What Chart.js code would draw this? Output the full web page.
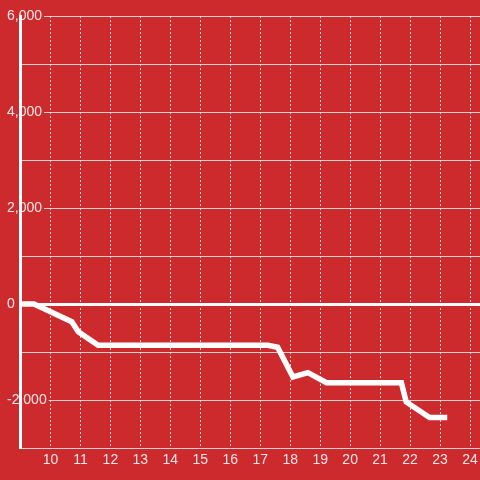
<!DOCTYPE html>
<html>
<head>
<meta charset="utf-8">
<script src="https://cdn.jsdelivr.net/npm/chart.js@4"></script>
<style>
  html, body { margin: 0; padding: 0; background: #cd2a2e; }
  #wrap { width: 480px; height: 480px; position: relative; }
</style>
</head>
<body>
<div id="wrap"><canvas id="chart"></canvas></div>
<script>
// hour of day vs running balance
const hours = [8.5, 9.45, 10.71, 10.93, 11.59, 17.25, 17.58, 18.09, 18.59, 19.21, 21.71, 21.87, 22.65, 23.24];
const balance = [0, 0, -370, -580, -860, -860, -900, -1520, -1430, -1640, -1640, -2040, -2365, -2365];
const yLabelTicks = [-2000, 0, 2000, 4000, 6000];

const red = '#cd2a2e';
const textColor = 'rgba(255,255,255,0.88)';
const family = '"Liberation Sans", Arial, sans-serif';

const points = hours.map((h, i) => ({ x: h, y: balance[i] }));

const ctx = document.getElementById('chart').getContext('2d');
const chart = new Chart(ctx, {
  type: 'line',
  data: {
    datasets: [{
      data: points,
      borderColor: '#ffffff',
      borderWidth: 5.5,
      pointRadius: 0,
      tension: 0,
      fill: false,
    }],
  },
  options: {
    responsive: true,
    maintainAspectRatio: false,
    animation: false,
    layout: { padding: { left: 20.5, top: 16, right: 0, bottom: 7 } },
    plugins: {
      legend: { display: false },
      tooltip: { enabled: false },
    },
    scales: {
      x: {
        type: 'linear',
        min: 9,
        max: 24.333,
        border: { display: false, dash: [2, 2] },
        grid: {
          color: 'rgba(255,255,255,0.8)',
          lineWidth: 1,
          drawTicks: false,
        },
        ticks: {
          stepSize: 1,
          includeBounds: false,
          padding: 0,
          color: textColor,
          font: { family, size: 14, lineHeight: '25px' },
          maxRotation: 0,
          callback: (v) => (v === 9 ? null : String(v)),
        },
      },
      y: {
        min: -3000,
        max: 6000,
        border: { display: true, color: '#ffffff', width: 3, z: 1 },
        grid: {
          drawTicks: false,
          color: (c) => (c.tick && c.tick.value === 0 ? '#ffffff' : 'rgba(225,225,225,0.9)'),
          lineWidth: (c) => (c.tick && c.tick.value === 0 ? 3 : 1),
        },
        ticks: {
          stepSize: 1000,
          mirror: true,
          padding: -13.5,
          crossAlign: 'near',
          color: textColor,
          font: { family, size: 14 },
          showLabelBackdrop: true,
          backdropColor: red,
          backdropPadding: 2,
          callback: (v) => (yLabelTicks.includes(v) ? v.toLocaleString('en-US') : ''),
        },
        afterFit: (scale) => { scale.width = 0; },
      },
    },
  },
});
</script>
</body>
</html>
